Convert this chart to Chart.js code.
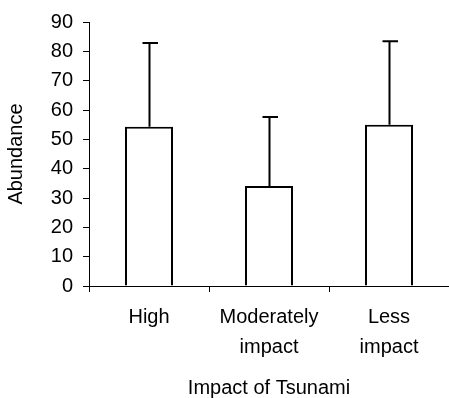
<!DOCTYPE html>
<html>
<head>
<meta charset="utf-8">
<script src="https://cdn.jsdelivr.net/npm/chart.js@4/dist/chart.umd.min.js"></script>
<style>
  html, body { margin: 0; padding: 0; background: #fff; }
  #wrap { width: 449px; height: 398px; }
</style>
</head>
<body>
<div id="wrap"><canvas id="c" width="449" height="398"></canvas></div>
<script>
// Data
const categories = [["High"], ["Moderately", "impact"], ["Less", "impact"]];
const means = [54.3, 34.1, 55.0];
const errors = [28.5, 23.5, 28.4];
const yTicks = [0, 10, 20, 30, 40, 50, 60, 70, 80, 90];
const yTitle = "Abundance";
const xTitle = "Impact of Tsunami";

const FONT = "'Liberation Sans', Arial, sans-serif";

const errorBarPlugin = {
  id: 'errorBars',
  afterDatasetsDraw(chart) {
    const ctx = chart.ctx;
    const meta = chart.getDatasetMeta(0);
    const y = chart.scales.y;
    ctx.save();
    ctx.strokeStyle = '#000';
    ctx.lineWidth = 2;
    meta.data.forEach((bar, i) => {
      const x = Math.round(bar.x) + 0.5;
      const yTop = y.getPixelForValue(means[i] + errors[i]);
      const yBase = y.getPixelForValue(means[i]);
      ctx.beginPath();
      ctx.moveTo(x, yBase);
      ctx.lineTo(x, yTop);
      ctx.moveTo(x - 7, yTop);
      ctx.lineTo(x + 8.5, yTop);
      ctx.stroke();
    });
    ctx.restore();
  }
};

new Chart(document.getElementById('c'), {
  type: 'bar',
  data: {
    labels: categories,
    datasets: [{
      data: means,
      backgroundColor: '#fff',
      borderColor: '#000',
      borderWidth: 2,
      borderSkipped: 'bottom',
      categoryPercentage: 1.0,
      barPercentage: 0.4
    }]
  },
  options: {
    responsive: false,
    animation: false,
    devicePixelRatio: 1,
    layout: { padding: { top: 19, right: 0, left: 0, bottom: 0 } },
    plugins: { legend: { display: false }, tooltip: { enabled: false } },
    scales: {
      x: {
        offset: true,
        grid: { display: true, drawOnChartArea: false, offset: true, tickLength: 6, tickColor: '#000', lineWidth: 1 },
        border: { display: true, color: '#000', width: 1 },
        ticks: { color: '#000', padding: 10, maxRotation: 0, autoSkip: false,
                 font: { family: FONT, size: 20, lineHeight: 1.5 } },
        title: { display: true, text: xTitle, color: '#000',
                 font: { family: FONT, size: 20, lineHeight: 1.0 }, padding: { top: 0, bottom: 0 } },
        afterFit(scale) { scale.height = 112; }
      },
      y: {
        min: 0, max: 90,
        grid: { display: true, drawOnChartArea: false, tickLength: 6, tickColor: '#000', lineWidth: 1 },
        border: { display: true, color: '#000', width: 1 },
        afterBuildTicks(scale) { scale.ticks = yTicks.map(v => ({ value: v })); },
        ticks: { color: '#000', padding: 10, font: { family: FONT, size: 20 } },
        title: { display: true, text: yTitle, color: '#000',
                 font: { family: FONT, size: 20, lineHeight: 1.2 }, padding: { top: 4, bottom: 0 } },
        afterFit(scale) { scale.width = 89; }
      }
    }
  },
  plugins: [errorBarPlugin]
});
</script>
</body>
</html>
